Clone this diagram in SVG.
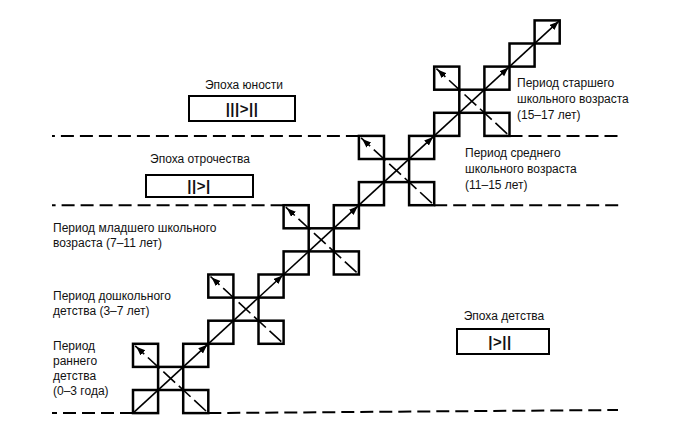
<svg xmlns="http://www.w3.org/2000/svg" width="673" height="425" viewBox="0 0 673 425">
<style>
  .sq { fill: none; stroke: #000; stroke-width: 2.5; }
  .main { fill: none; stroke: #000; stroke-width: 1.6; marker-end: url(#ah); }
  .anti { fill: none; stroke: #000; stroke-width: 1.6; stroke-dasharray: 16 5; marker-end: url(#ah); }
  .hl { fill: none; stroke: #000; stroke-width: 2; stroke-dasharray: 13 6; }
  .box { fill: #fff; stroke: #000; stroke-width: 2; }
  .t { font-family: "Liberation Sans", Arial, sans-serif; font-size: 12px; fill: #111; }
  .c { text-anchor: middle; }
  .bars { font-family: "Liberation Sans", Arial, sans-serif; font-size: 15px; font-weight: bold; fill: #111; text-anchor: middle; letter-spacing: 0.5px; }
</style>
<defs>
  <marker id="ah" markerUnits="userSpaceOnUse" markerWidth="12" markerHeight="8" refX="10.5" refY="3.5" orient="auto">
    <path d="M0,0 L9,3.5 L0,7 z" fill="#000"/>
  </marker>
</defs>

<g id="connectors">
  <path class="hl" d="M358.9,135.9 H52"/>
  <path class="hl" d="M509.5,135.9 H620"/>
  <path class="hl" d="M283.6,205.2 H52"/>
  <path class="hl" d="M434.2,205.2 H620"/>
  <path class="hl" d="M133,413.1 H52"/>
  <path class="hl" d="M208.3,413.1 L618,410"/>
</g>

<g id="block1">
  <rect class="sq" x="133" y="390" width="25.1" height="23.1"/>
  <rect class="sq" x="158.1" y="366.9" width="25.1" height="23.1"/>
  <rect class="sq" x="183.2" y="343.8" width="25.1" height="23.1"/>
  <rect class="sq" x="133" y="343.8" width="25.1" height="23.1"/>
  <rect class="sq" x="183.2" y="390" width="25.1" height="23.1"/>
</g>
<g id="block2">
  <rect class="sq" x="208.3" y="320.7" width="25.1" height="23.1"/>
  <rect class="sq" x="233.4" y="297.6" width="25.1" height="23.1"/>
  <rect class="sq" x="258.5" y="274.5" width="25.1" height="23.1"/>
  <rect class="sq" x="208.3" y="274.5" width="25.1" height="23.1"/>
  <rect class="sq" x="258.5" y="320.7" width="25.1" height="23.1"/>
</g>
<g id="block3">
  <rect class="sq" x="283.6" y="251.4" width="25.1" height="23.1"/>
  <rect class="sq" x="308.7" y="228.3" width="25.1" height="23.1"/>
  <rect class="sq" x="333.8" y="205.2" width="25.1" height="23.1"/>
  <rect class="sq" x="283.6" y="205.2" width="25.1" height="23.1"/>
  <rect class="sq" x="333.8" y="251.4" width="25.1" height="23.1"/>
</g>
<g id="block4">
  <rect class="sq" x="358.9" y="182.1" width="25.1" height="23.1"/>
  <rect class="sq" x="384" y="159" width="25.1" height="23.1"/>
  <rect class="sq" x="409.1" y="135.9" width="25.1" height="23.1"/>
  <rect class="sq" x="358.9" y="135.9" width="25.1" height="23.1"/>
  <rect class="sq" x="409.1" y="182.1" width="25.1" height="23.1"/>
</g>
<g id="block5">
  <rect class="sq" x="434.2" y="112.8" width="25.1" height="23.1"/>
  <rect class="sq" x="459.3" y="89.7" width="25.1" height="23.1"/>
  <rect class="sq" x="484.4" y="66.6" width="25.1" height="23.1"/>
  <rect class="sq" x="434.2" y="66.6" width="25.1" height="23.1"/>
  <rect class="sq" x="484.4" y="112.8" width="25.1" height="23.1"/>
</g>
<g id="block6">
  <rect class="sq" x="509.5" y="43.5" width="25.1" height="23.1"/>
  <rect class="sq" x="534.6" y="20.4" width="25.1" height="23.1"/>
</g>

<g id="arrows">
  <path class="main" d="M133,413.1 L208.3,343.8"/>
  <path class="main" d="M208.3,343.8 L283.6,274.5"/>
  <path class="main" d="M283.6,274.5 L358.9,205.2"/>
  <path class="main" d="M358.9,205.2 L434.2,135.9"/>
  <path class="main" d="M434.2,135.9 L509.5,66.6"/>
  <path class="main" d="M509.5,66.6 L559.7,20.4"/>
  <path class="anti" d="M206,411 L135.2,345.8"/>
  <path class="anti" d="M281.3,341.7 L210.5,276.5"/>
  <path class="anti" d="M356.6,272.4 L285.8,207.2"/>
  <path class="anti" d="M431.9,203.1 L361.1,137.9"/>
  <path class="anti" d="M507.2,133.8 L436.4,68.6"/>
</g>

<g id="epoch-youth">
  <text class="t c" x="244" y="89">Эпоха юности</text>
  <rect class="box" x="189" y="96" width="106" height="25"/>
  <text class="bars" x="242" y="114">|||&gt;||</text>
</g>
<g id="epoch-adolescence">
  <text class="t c" x="200" y="163">Эпоха отрочества</text>
  <rect class="box" x="146" y="175" width="107" height="22"/>
  <text class="bars" x="199" y="191">||&gt;|</text>
</g>
<g id="epoch-childhood">
  <text class="t c" x="504" y="320">Эпоха детства</text>
  <rect class="box" x="457" y="329" width="92" height="25"/>
  <text class="bars" x="500" y="347">|&gt;||</text>
</g>

<g id="period-senior">
  <text class="t" x="517" y="87">Период старшего</text>
  <text class="t" x="517" y="103">школьного возраста</text>
  <text class="t" x="517" y="119">(15–17 лет)</text>
</g>
<g id="period-middle">
  <text class="t" x="465" y="157">Период среднего</text>
  <text class="t" x="465" y="173">школьного возраста</text>
  <text class="t" x="465" y="189">(11–15 лет)</text>
</g>
<g id="period-junior">
  <text class="t" x="53" y="232">Период младшего школьного</text>
  <text class="t" x="53" y="247">возраста (7–11 лет)</text>
</g>
<g id="period-preschool">
  <text class="t" x="53" y="300">Период дошкольного</text>
  <text class="t" x="53" y="315">детства (3–7 лет)</text>
</g>
<g id="period-early">
  <text class="t" x="53" y="350">Период</text>
  <text class="t" x="53" y="365">раннего</text>
  <text class="t" x="53" y="380">детства</text>
  <text class="t" x="53" y="395">(0–3 года)</text>
</g>
</svg>
